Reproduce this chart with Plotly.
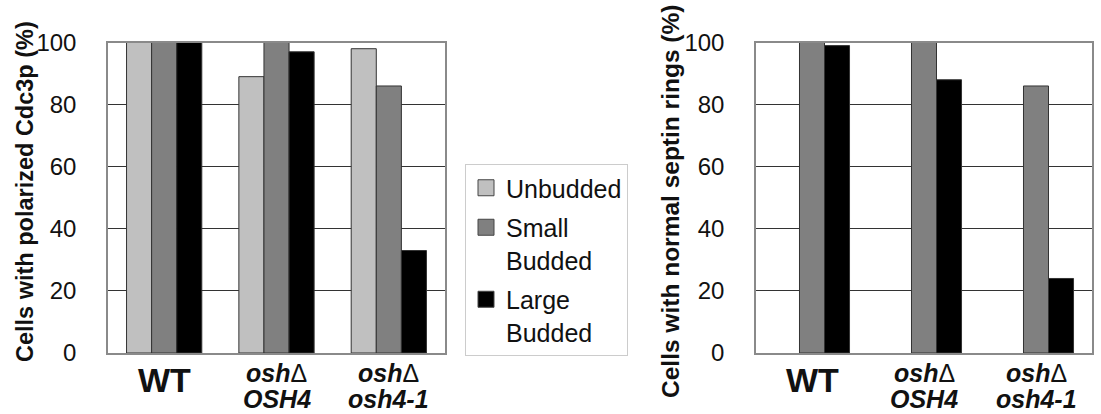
import plotly.graph_objects as go

# ---- data ----
groups = ["WT", "osh4", "osh4-1"]
groups_line1 = ["<b>WT</b>", "<b><i>osh</i></b>Δ", "<b><i>osh</i></b>Δ"]
groups_line2 = ["", "<b><i>OSH4</i></b>", "<b><i>osh4-1</i></b>"]
series_names = ["Unbudded", "Small<br>Budded", "Large<br>Budded"]
series_colors = ["#c0c0c0", "#808080", "#000000"]

cdc3_unbudded = [100, 89, 98]
cdc3_small = [100, 100, 86]
cdc3_large = [100, 97, 33]

septin_unbudded = [None, None, None]
septin_small = [100, 100, 86]
septin_large = [99, 88, 24]

left_title = "Cells with polarized Cdc3p (%)"
right_title = "Cells with normal septin rings (%)"
y_ticks = [0, 20, 40, 60, 80, 100]

W, H = 1101, 414
FONT = "Liberation Sans, Arial, Helvetica, sans-serif"

xpos = list(range(len(groups)))

fig = go.Figure()
left_vals = [cdc3_unbudded, cdc3_small, cdc3_large]
right_vals = [septin_unbudded, septin_small, septin_large]
for i, name in enumerate(series_names):
    fig.add_trace(go.Bar(x=xpos, y=left_vals[i], name=name, xaxis="x", yaxis="y",
                         marker=dict(color=series_colors[i], line=dict(color="#333333", width=1)),
                         legendgroup=str(i), showlegend=False))
for i, name in enumerate(series_names):
    fig.add_trace(go.Bar(x=xpos, y=right_vals[i], name=name, xaxis="x2", yaxis="y2",
                         marker=dict(color=series_colors[i], line=dict(color="#333333", width=1)),
                         legendgroup=str(i), showlegend=False))
# legend entries (square swatches like the reference)
for i, name in enumerate(series_names):
    fig.add_trace(go.Scatter(x=[None], y=[None], name=name, mode="markers", xaxis="x", yaxis="y",
                             marker=dict(symbol="square", size=17, color=series_colors[i],
                                         line=dict(color="#444444", width=1)),
                             legendgroup=str(i), showlegend=True, hoverinfo="skip"))

def px_x(p):
    return p / W

def px_y(p):
    return 1 - p / H

ydom = [px_y(353), px_y(42.5)]
xdom1 = [px_x(108), px_x(445)]
xdom2 = [px_x(756), px_x(1092)]

yaxis_common = dict(range=[0, 100], tickvals=y_ticks, showgrid=True, gridcolor="#333333", gridwidth=1,
                    showline=True, linecolor="#8a8a8a", linewidth=1.5, mirror=True, ticks="",
                    tickfont=dict(family=FONT, size=24, color="#111111"), ticklabelstandoff=25,
                    zeroline=False, domain=ydom, fixedrange=True, automargin=False)
xaxis_common = dict(range=[-0.5, 2.5], showticklabels=False, ticks="", showgrid=False, zeroline=False,
                    showline=True, linecolor="#8a8a8a", linewidth=1.5, mirror=True, fixedrange=True,
                    automargin=False)

fig.update_layout(
    width=W, height=H, margin=dict(l=0, r=0, t=0, b=0, autoexpand=False),
    paper_bgcolor="white", plot_bgcolor="white",
    barmode="group", bargap=0.33, bargroupgap=0,
    xaxis=dict(domain=xdom1, anchor="y", **xaxis_common),
    yaxis=dict(anchor="x", **yaxis_common),
    xaxis2=dict(domain=xdom2, anchor="y2", **xaxis_common),
    yaxis2=dict(anchor="x2", **yaxis_common),
    legend=dict(x=px_x(465), y=px_y(164), xanchor="left", yanchor="top",
                bordercolor="#cccccc", borderwidth=1, bgcolor="white",
                font=dict(family=FONT, size=25, color="#111111"), valign="top",
                tracegroupgap=4, traceorder="grouped", itemsizing="trace", itemwidth=30),
    showlegend=True,
)

ann = []
for xr in ["x", "x2"]:
    for i in xpos:
        if groups_line2[i]:
            ann.append(dict(x=i, xref=xr, y=px_y(373), yref="paper", text=groups_line1[i],
                            showarrow=False, xanchor="center", yanchor="middle",
                            font=dict(family=FONT, size=25, color="#111111")))
            ann.append(dict(x=i, xref=xr, y=px_y(399), yref="paper", text=groups_line2[i],
                            showarrow=False, xanchor="center", yanchor="middle",
                            font=dict(family=FONT, size=25, color="#111111")))
        else:
            ann.append(dict(x=i, xref=xr, y=px_y(380), yref="paper", text=groups_line1[i],
                            showarrow=False, xanchor="center", yanchor="middle",
                            font=dict(family=FONT, size=34, color="#111111")))

ann.append(dict(x=px_x(25), y=px_y(192), xref="paper", yref="paper", text="<b>" + left_title + "</b>",
                textangle=-90, showarrow=False, xanchor="center", yanchor="middle",
                font=dict(family=FONT, size=23.5, color="#111111")))
ann.append(dict(x=px_x(671), y=px_y(202), xref="paper", yref="paper", text="<b>" + right_title + "</b>",
                textangle=-90, showarrow=False, xanchor="center", yanchor="middle",
                font=dict(family=FONT, size=24.5, color="#111111")))
fig.update_layout(annotations=ann)

fig.write_html("out.html", config={"displayModeBar": False},
               post_script="document.body.style.margin='0';")
